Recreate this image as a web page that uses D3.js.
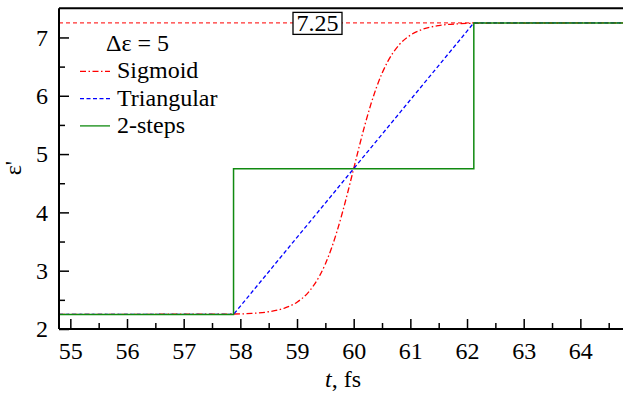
<!DOCTYPE html>
<html>
<head>
<meta charset="utf-8">
</head>
<body style="margin:0">
<svg width="623" height="394" font-family="Liberation Serif"></svg>
<script src="https://d3js.org/d3.v7.min.js"></script>
<script>
  // values
  var stepT = [54.8, 57.88, 57.88, 62.12, 62.12, 64.8];
  var stepEps = [2.25, 2.25, 4.75, 4.75, 7.25, 7.25];

  var triT = [54.8, 57.88, 62.12, 64.8];
  var triEps = [2.25, 2.25, 7.25, 7.25];

  var sigT = [54.8, 57.88, 58.2, 58.5, 58.8, 59.0, 59.2, 59.4, 59.5, 59.6, 59.7, 59.8, 59.9, 60.0,
              60.1, 60.2, 60.3, 60.4, 60.5, 60.6, 60.8, 61.0, 61.2, 61.5, 61.8, 62.12, 64.8];
  var sigEps = [2.25, 2.257, 2.268, 2.296, 2.365, 2.46, 2.629, 2.915, 3.116, 3.363, 3.657, 3.993, 4.362, 4.75,
                5.138, 5.507, 5.843, 6.137, 6.384, 6.585, 6.871, 7.04, 7.135, 7.204, 7.232, 7.243, 7.25];

  var refLevel = 7.25;
  var xTicks = [55, 56, 57, 58, 59, 60, 61, 62, 63, 64];
  var yTicks = [2, 3, 4, 5, 6, 7];

  var serif = "Liberation Serif";
  var svg = d3.select("svg");

  var x = d3.scaleLinear().domain([54.8, 64.8]).range([59, 625.7]);
  var y = d3.scaleLinear().domain([2, 7.5]).range([329, 8.3]);

  var zip = function(a, b) { return a.map(function(v, i) { return [v, b[i]]; }); };
  var line = d3.line().x(function(d) { return x(d[0]); }).y(function(d) { return y(d[1]); });

  // reference level and curves
  svg.append("line")
    .attr("x1", x(54.8)).attr("x2", x(64.8))
    .attr("y1", y(refLevel)).attr("y2", y(refLevel))
    .attr("stroke", "#ff3030").attr("stroke-width", 1.3)
    .attr("stroke-dasharray", "4,3");

  svg.append("path")
    .attr("d", line.curve(d3.curveMonotoneX)(zip(sigT, sigEps)))
    .attr("fill", "none").attr("stroke", "#ff0000").attr("stroke-width", 1.3)
    .attr("stroke-dasharray", "6,2.5,1.5,2.5");

  line.curve(d3.curveLinear);
  svg.append("path")
    .attr("d", line(zip(triT, triEps)))
    .attr("fill", "none").attr("stroke", "#0000ff").attr("stroke-width", 1.3)
    .attr("stroke-dasharray", "4,2.5");

  svg.append("path")
    .attr("d", line(zip(stepT, stepEps)))
    .attr("fill", "none").attr("stroke", "#108a10").attr("stroke-width", 1.5);

  // 7.25 label box
  var bx = 317.5, by = y(refLevel);
  svg.append("rect")
    .attr("x", bx - 24.5).attr("y", by - 10.5)
    .attr("width", 49).attr("height", 22)
    .attr("fill", "#fff").attr("stroke", "#000").attr("stroke-width", 1.3);
  svg.append("text")
    .attr("x", bx).attr("y", by + 8.5)
    .attr("text-anchor", "middle").attr("font-size", 24)
    .text("7.25");

  // frame
  svg.append("line")
    .attr("x1", x(54.8)).attr("x2", x(64.8)).attr("y1", y(7.5)).attr("y2", y(7.5))
    .attr("stroke", "#000").attr("stroke-width", 2);
  svg.append("line")
    .attr("x1", x(64.8)).attr("x2", x(64.8)).attr("y1", y(7.5)).attr("y2", y(2))
    .attr("stroke", "#000").attr("stroke-width", 2);

  // axes, minor ticks at the half units
  var minorX = d3.range(54.5, 65, 1).filter(function(v) { return v > 54.8 && v < 64.8; });
  var minorY = d3.range(2.5, 7.5, 1);

  svg.append("g")
    .attr("transform", "translate(0," + y(2) + ")")
    .call(d3.axisBottom(x).tickValues(minorX).tickSize(-6).tickFormat(""))
    .call(function(g) { g.select(".domain").remove(); });
  var xa = svg.append("g")
    .attr("transform", "translate(0," + y(2) + ")")
    .call(d3.axisBottom(x).tickValues(xTicks).tickSize(-10).tickPadding(13).tickFormat(d3.format("d")));

  svg.append("g")
    .attr("transform", "translate(" + x(54.8) + ",0)")
    .call(d3.axisLeft(y).tickValues(minorY).tickSize(-6).tickFormat(""))
    .call(function(g) { g.select(".domain").remove(); });
  var ya = svg.append("g")
    .attr("transform", "translate(" + x(54.8) + ",0)")
    .call(d3.axisLeft(y).tickValues(yTicks).tickSize(-10).tickPadding(11).tickFormat(d3.format("d")));

  // axis groups carry font-family="sans-serif"; point them at the serif face instead
  svg.selectAll("g").attr("font-family", serif).attr("font-size", 24);
  svg.selectAll(".tick line").attr("stroke-width", 1.5);
  svg.selectAll(".domain").attr("stroke-width", 2);
  svg.selectAll(".tick text").attr("fill", "#000");
  ya.select(".domain").attr("d", "M0," + y(2) + "V" + y(7.5));
  xa.select(".domain").attr("d", "M" + x(54.8) + ",0H" + x(64.8));

  // axis titles
  var xl = svg.append("text")
    .attr("x", 343).attr("y", 387)
    .attr("text-anchor", "middle").attr("font-size", 24);
  xl.append("tspan").attr("font-style", "italic").text("t");
  xl.append("tspan").text(", fs");

  svg.append("text")
    .attr("transform", "translate(21,168) rotate(-90)")
    .attr("text-anchor", "middle").attr("font-size", 24)
    .text("ε'");

  // legend
  svg.append("text")
    .attr("x", 106).attr("y", 51).attr("font-size", 24)
    .text("Δε = 5");

  var legendItems = [
    { name: "Sigmoid", color: "#ff0000", dash: "6,2.5,1.5,2.5" },
    { name: "Triangular", color: "#0000ff", dash: "4,2.5" },
    { name: "2-steps", color: "#108a10", dash: null }
  ];
  var legend = svg.append("g").selectAll("g")
    .data(legendItems).enter().append("g")
    .attr("transform", function(d, i) { return "translate(0," + (78.3 + i * 27.3) + ")"; });
  legend.append("line")
    .attr("x1", 80).attr("x2", 110).attr("y1", -7).attr("y2", -7)
    .attr("stroke", function(d) { return d.color; })
    .attr("stroke-width", 1.3)
    .attr("stroke-dasharray", function(d) { return d.dash; });
  legend.append("text")
    .attr("x", 117).attr("font-size", 24)
    .text(function(d) { return d.name; });

  svg.selectAll("text").attr("font-family", serif);
</script>
</body>
</html>
